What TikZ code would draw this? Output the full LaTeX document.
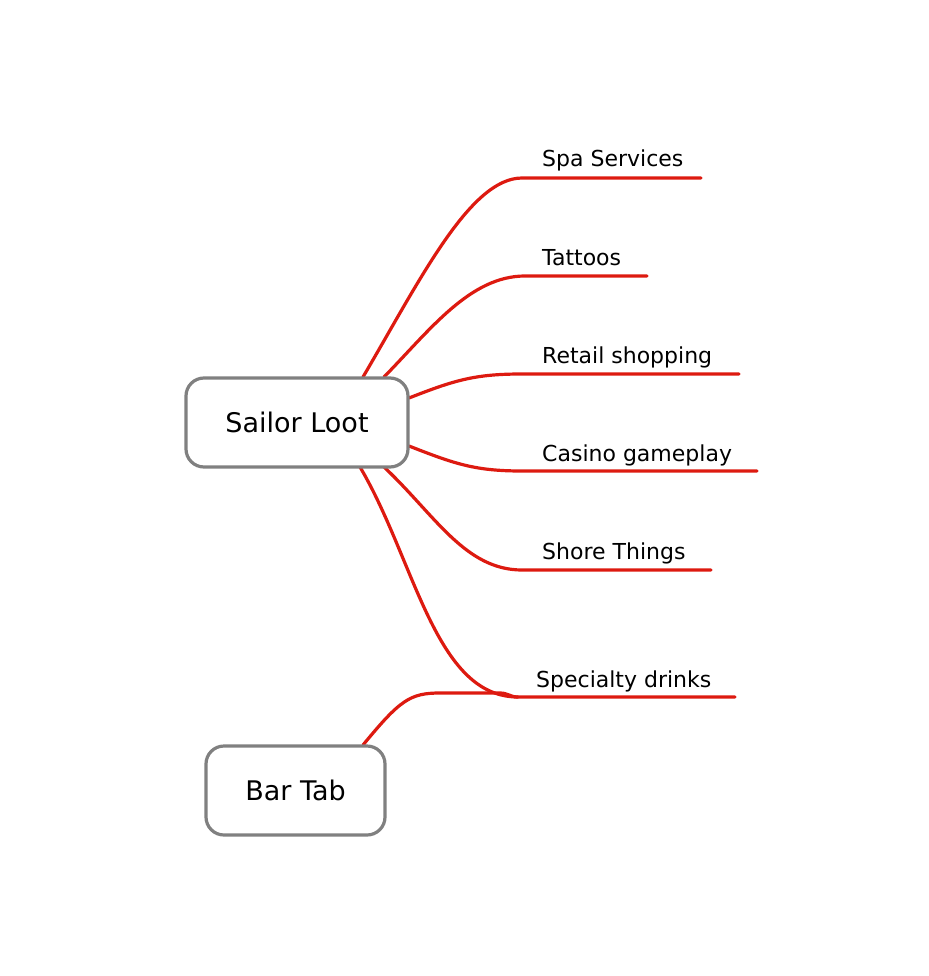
\documentclass[tikz,border=0pt]{standalone}
\usepackage{fontspec}
\setmainfont{DejaVu Sans}
\definecolor{linkred}{HTML}{DD1A10}
\definecolor{boxgray}{HTML}{808080}
\tikzset{
  topic/.style={draw=boxgray, line width=3.2pt, rounded corners=18pt, fill=white, font=\fontsize{27}{31}\selectfont, inner sep=0pt},
  link/.style={draw=linkred, line width=3.2pt, line cap=round},
  lbl/.style={anchor=base west, inner sep=0pt, font=\fontsize{22}{26}\selectfont}
}
\begin{document}
\begin{tikzpicture}[x=1pt,y=-1pt]
\useasboundingbox (0,0) rectangle (928,976);
% end points of branches
\coordinate (spaS) at (363,377);   \coordinate (spaM) at (522,178);   \coordinate (spaE) at (701,178);
\coordinate (tatS) at (384,377);   \coordinate (tatM) at (525,276);   \coordinate (tatE) at (647,276);
\coordinate (retS) at (409,398);   \coordinate (retM) at (522,374);   \coordinate (retE) at (739,374);
\coordinate (casS) at (409,446);   \coordinate (casM) at (522,471);   \coordinate (casE) at (757,471);
\coordinate (shoS) at (384,467);   \coordinate (shoM) at (522,570);   \coordinate (shoE) at (711,570);
\coordinate (speS) at (360,467);   \coordinate (speM) at (518,697);   \coordinate (speE) at (735,697);
\coordinate (barS) at (363,745);   \coordinate (barM) at (440,693);   \coordinate (barJ) at (500,693);

\draw[link] (spaS) .. controls (420,280) and (470,178) .. (spaM) -- (spaE);
\draw[link] (tatS) .. controls (430,330) and (470,276) .. (tatM) -- (tatE);
\draw[link] (retS) .. controls (455,380) and (475,374) .. (retM) -- (retE);
\draw[link] (casS) .. controls (455,464) and (475,471) .. (casM) -- (casE);
\draw[link] (shoS) .. controls (435,515) and (465,570) .. (shoM) -- (shoE);
\draw[link] (speS) .. controls (415,560) and (435,697) .. (speM) -- (speE);
\draw[link] (barS) .. controls (400,700) and (410,693) .. (barM) -- (barJ) .. controls (508,693) and (510,697) .. (speM);

\node[topic, minimum width=222pt, minimum height=89pt] (loot) at (297,422.5) {Sailor Loot};
\node[topic, minimum width=179pt, minimum height=89pt] (bar) at (295.5,790.5) {Bar Tab};

\node[lbl] (spa) at (542,167) {Spa Services};
\node[lbl] (tat) at (542,265) {Tattoos};
\node[lbl] (ret) at (542,363) {Retail shopping};
\node[lbl] (cas) at (542,461) {Casino gameplay};
\node[lbl] (sho) at (542,559) {Shore Things};
\node[lbl] (spe) at (536,687) {Specialty drinks};
\end{tikzpicture}
\end{document}
